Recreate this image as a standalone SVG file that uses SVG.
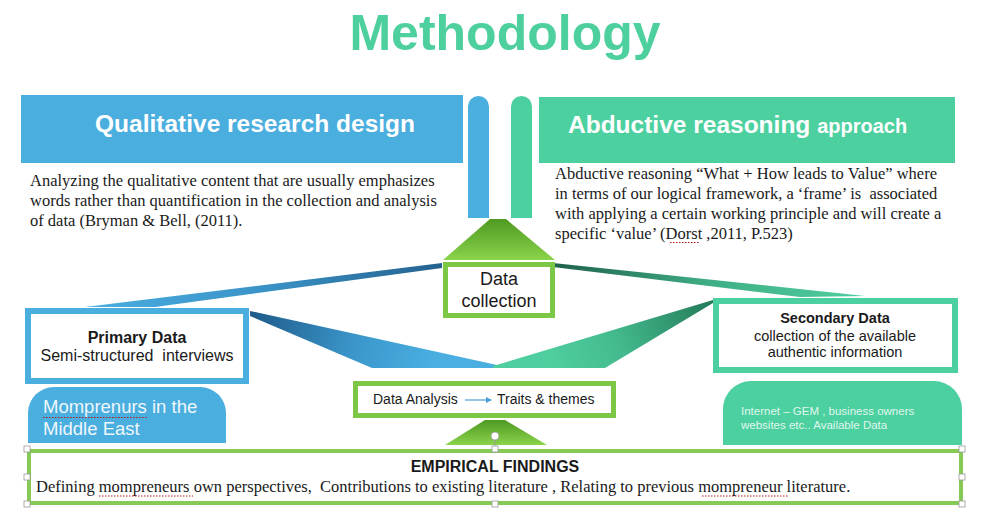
<svg xmlns="http://www.w3.org/2000/svg" width="992" height="518" viewBox="0 0 992 518">
<defs>
<style>
.sans{font-family:"Liberation Sans",Arial,sans-serif}
.serif{font-family:"Liberation Serif","Times New Roman",serif;font-size:16.5px;fill:#1a1a1a}
.hdr{font-family:"Liberation Sans",Arial,sans-serif;font-weight:bold;fill:#ffffff}
.gbox{fill:#ffffff;stroke:#7cc846}
.lbl{font-family:"Liberation Sans",Arial,sans-serif;fill:#1a1a1a}
.sq{stroke:#b21a1a;stroke-width:1;stroke-dasharray:1.5 1.5;fill:none}
.hd{fill:#ffffff;stroke:#9a9a9a;stroke-width:0.8}
</style>
<linearGradient id="gTrap" x1="0" y1="0" x2="0" y2="1">
<stop offset="0" stop-color="#4e9a22"/><stop offset="1" stop-color="#8bd34b"/>
</linearGradient>
<linearGradient id="bTop" gradientUnits="userSpaceOnUse" x1="440" y1="264" x2="85" y2="307">
<stop offset="0" stop-color="#24628f"/><stop offset="0.5" stop-color="#3a93c8"/><stop offset="1" stop-color="#4aaee0"/>
</linearGradient>
<linearGradient id="bLow" gradientUnits="userSpaceOnUse" x1="250" y1="313" x2="430" y2="368">
<stop offset="0" stop-color="#1d5a88"/><stop offset="0.6" stop-color="#3c98cc"/><stop offset="1" stop-color="#4aaee0"/>
</linearGradient>
<linearGradient id="gLow" gradientUnits="userSpaceOnUse" x1="713" y1="300" x2="550" y2="368">
<stop offset="0" stop-color="#237a58"/><stop offset="0.6" stop-color="#44bb8e"/><stop offset="1" stop-color="#4fcf9f"/>
</linearGradient>
<linearGradient id="gTop" gradientUnits="userSpaceOnUse" x1="553" y1="264" x2="865" y2="296">
<stop offset="0" stop-color="#1f6048"/><stop offset="0.5" stop-color="#3fae85"/><stop offset="1" stop-color="#4fcf9f"/>
</linearGradient>
<marker id="arr" viewBox="0 0 6 6" refX="5" refY="3" markerWidth="5" markerHeight="5" orient="auto">
<path d="M0,0 L6,3 L0,6 Z" fill="#4a9fd8"/>
</marker>
</defs>

<rect width="992" height="518" fill="#ffffff"/>

<text id="title" class="sans" x="505" y="50" font-size="50" font-weight="bold" fill="#4ecf9e" text-anchor="middle">Methodology</text>

<g id="connectors">
<path d="M468,218 V106.5 A10.5,10.5 0 0 1 489,106.5 V218 Z" fill="#4aaede"/>
<path d="M511,218 V106.5 A10.5,10.5 0 0 1 532,106.5 V218 Z" fill="#4dd0a0"/>
<path d="M490,219 L506,219 L555,260 L443,260 Z" fill="url(#gTrap)"/>
<path d="M442,263 L85,307 L155,307 L442,268 Z" fill="url(#bTop)"/>
<path d="M250,311 L497,365 L497,368 L372,368 L250,316 Z" fill="url(#bLow)"/>
<path d="M553,263 L865,296 L800,297 L553,267 Z" fill="url(#gTop)"/>
<path d="M713,300 L493,366 L493,368 L605,368 L713,303 Z" fill="url(#gLow)"/>
<path d="M485,420 L505,420 L547,445 L445,445 Z" fill="url(#gTrap)"/>
</g>

<g id="qualitative">
<rect x="21" y="95" width="442" height="68" fill="#4aaede"/>
<text class="hdr" x="95" y="132" font-size="24.5">Qualitative research design</text>
<text class="serif" x="30" y="186">Analyzing the qualitative content that are usually emphasizes</text>
<text class="serif" x="30" y="206">words rather than quantification in the collection and analysis</text>
<text class="serif" x="30" y="226">of data (Bryman &amp; Bell, (2011).</text>
</g>

<g id="abductive">
<rect x="539" y="97" width="416" height="66" fill="#4dd0a0"/>
<text class="hdr" x="568" y="133" font-size="24.5">Abductive reasoning <tspan font-size="20">approach</tspan></text>
<text class="serif" x="555" y="179">Abductive reasoning “What + How leads to Value” where</text>
<text class="serif" x="555" y="199" xml:space="preserve">in terms of our logical framework, a ‘frame’ is  associated</text>
<text class="serif" x="555" y="219">with applying a certain working principle and will create a</text>
<text class="serif" x="555" y="239">specific ‘value’ (Dorst ,2011, P.523)</text>
<path class="sq" d="M670,242.5 H700"/>
</g>

<g id="data-collection">
<rect class="gbox" x="445.5" y="264.5" width="107" height="51" stroke-width="5"/>
<text class="lbl" x="499" y="285" font-size="18" text-anchor="middle">Data</text>
<text class="lbl" x="499" y="307" font-size="18" text-anchor="middle">collection</text>
</g>

<g id="primary-data">
<rect x="28" y="311" width="218" height="70" fill="#ffffff" stroke="#4aaede" stroke-width="6"/>
<text class="lbl" x="137" y="343" font-size="16" font-weight="bold" text-anchor="middle">Primary Data</text>
<text class="lbl" x="137" y="361" font-size="16" text-anchor="middle" xml:space="preserve">Semi-structured  interviews</text>
</g>

<g id="secondary-data">
<rect x="716" y="301" width="239" height="69" fill="#ffffff" stroke="#4dd0a0" stroke-width="6"/>
<text class="lbl" x="835" y="323" font-size="14.5" font-weight="bold" text-anchor="middle">Secondary Data</text>
<text class="lbl" x="835" y="341" font-size="14.5" text-anchor="middle">collection of the available</text>
<text class="lbl" x="835" y="357" font-size="14.5" text-anchor="middle">authentic information</text>
</g>

<g id="mompreneurs">
<path d="M28,443 V413 A26,26 0 0 1 54,387 H200 A26,26 0 0 1 226,413 V443 Z" fill="#4aaede"/>
<text class="sans" x="43" y="413" font-size="18.5" fill="#eef7fc">Momprenurs in the</text>
<text class="sans" x="43" y="435" font-size="18.5" fill="#eef7fc">Middle East</text>
<path class="sq" d="M43,417.5 H148" stroke="#c0504d"/>
</g>

<g id="internet">
<path d="M723,445 V409 A28,28 0 0 1 751,381 H934 A28,28 0 0 1 962,409 V445 Z" fill="#4dd0a0"/>
<text class="sans" x="741" y="415" font-size="11.5" fill="#ffffff" fill-opacity="0.85">Internet – GEM , business owners</text>
<text class="sans" x="741" y="429" font-size="11.5" fill="#ffffff" fill-opacity="0.85">websites etc.. Available Data</text>
</g>

<g id="data-analysis">
<rect class="gbox" x="355.5" y="383.5" width="258" height="32" stroke-width="5"/>
<text class="lbl" x="373" y="404" font-size="14">Data Analysis</text>
<line x1="465" y1="400" x2="491" y2="400" stroke="#4a9fd8" stroke-width="1.2" marker-end="url(#arr)"/>
<text class="lbl" x="497" y="404" font-size="14">Traits &amp; themes</text>
</g>

<g id="findings">
<rect x="29" y="451" width="932" height="52" fill="#ffffff" stroke="#86c957" stroke-width="4"/>
<text class="lbl" x="495" y="472" font-size="16" font-weight="bold" text-anchor="middle">EMPIRICAL FINDINGS</text>
<text class="serif" x="36" y="492" xml:space="preserve">Defining mompreneurs own perspectives,  Contributions to existing literature , Relating to previous mompreneur literature.</text>
<path class="sq" d="M99,496 H193 M702,496 H789"/>
<line x1="495" y1="440" x2="495" y2="449" stroke="#9a9a9a" stroke-width="0.8"/>
<circle cx="495" cy="436" r="4" fill="#ffffff" stroke="#9a9a9a" stroke-width="0.8"/>
<rect class="hd" x="24" y="446" width="6" height="6"/>
<rect class="hd" x="492" y="446" width="6" height="6"/>
<rect class="hd" x="959" y="446" width="6" height="6"/>
<rect class="hd" x="24" y="474" width="6" height="6"/>
<rect class="hd" x="959" y="474" width="6" height="6"/>
<rect class="hd" x="24" y="501" width="6" height="6"/>
<rect class="hd" x="492" y="501" width="6" height="6"/>
<rect class="hd" x="959" y="501" width="6" height="6"/>
</g>
</svg>
